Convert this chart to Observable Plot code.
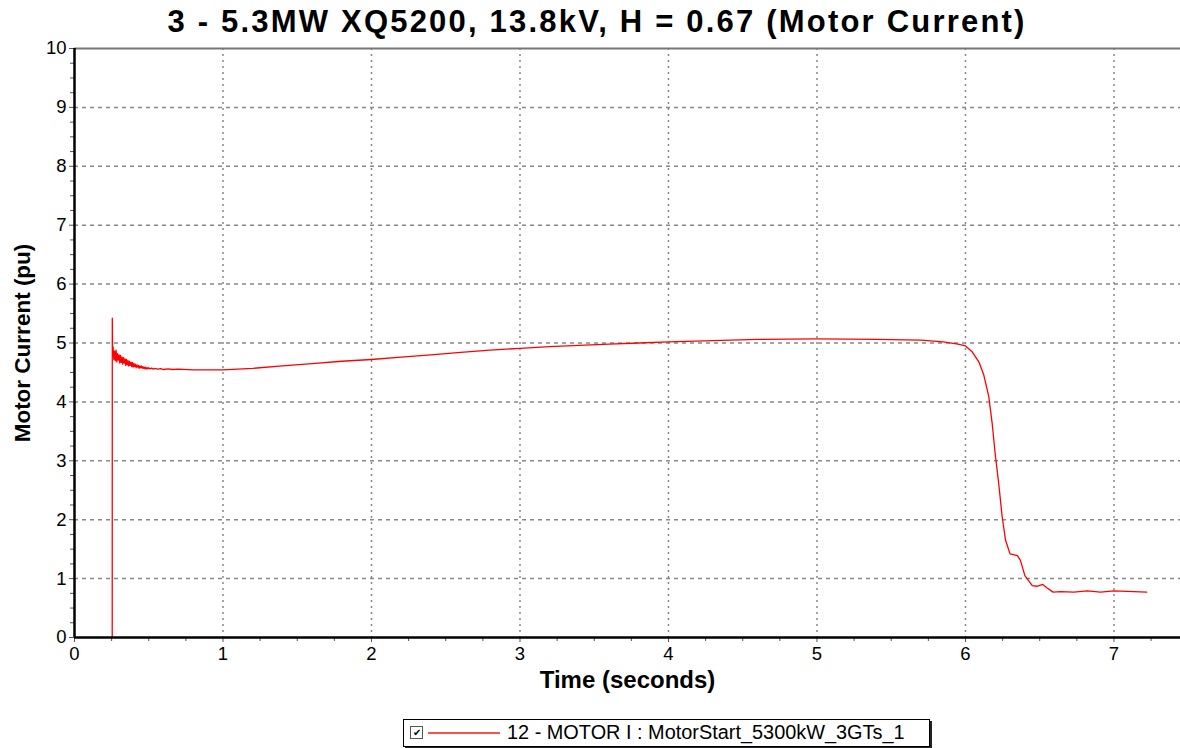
<!DOCTYPE html>
<html>
<head>
<meta charset="utf-8">
<script src="https://cdn.jsdelivr.net/npm/d3@7"></script>
<script src="https://cdn.jsdelivr.net/npm/@observablehq/plot@0.6"></script>
<style>
  html, body { margin: 0; padding: 0; background: #fff; width: 1180px; height: 748px; overflow: hidden; position: relative; }
  body { font-family: "Liberation Sans", Arial, sans-serif; }
  #title { height: 34px; line-height: 44px; text-align: center; font-size: 31px; letter-spacing: 2.2px; font-weight: bold; color: #000; padding-left: 14px; box-sizing: border-box; white-space: nowrap; }
  #legend { position: absolute; left: 403px; top: 719px; width: 525px; height: 26px; border: 1px solid #000; box-shadow: 2px 2px 0 #222; background: #fff; font-size: 19.9px; color: #000; }
  #legend .cb { position: absolute; left: 6px; top: 6px; width: 11px; height: 11px; border: 1px solid #555; font-size: 10px; line-height: 11px; text-align: center; }
  #legend .ln { position: absolute; left: 24px; top: 12px; width: 72px; height: 2px; background: #ff5050; }
  #legend .tx { position: absolute; left: 103px; top: 1px; white-space: nowrap; }
</style>
</head>
<body>
<div id="title">3 - 5.3MW XQ5200, 13.8kV, H = 0.67 (Motor Current)</div>
<div id="chart"></div>
<div id="legend"><div class="cb">&#10004;</div><div class="ln"></div><div class="tx">12 - MOTOR I : MotorStart_5300kW_3GTs_1</div></div>
<script>
// Time (seconds)
const time = [
  0.254, 0.2545, 0.257,
  0.260, 0.265, 0.270, 0.275, 0.280, 0.285, 0.290, 0.295, 0.300, 0.305,
  0.310, 0.315, 0.320, 0.325, 0.330, 0.335, 0.340, 0.345, 0.350, 0.355,
  0.360, 0.365, 0.370, 0.375, 0.380, 0.385, 0.390, 0.395, 0.400, 0.405,
  0.410, 0.415, 0.420, 0.425, 0.430, 0.435, 0.440, 0.445, 0.450, 0.455,
  0.460, 0.465, 0.470, 0.475, 0.480, 0.485, 0.490, 0.495, 0.500,
  0.51, 0.52, 0.53, 0.54, 0.56, 0.58, 0.60, 0.63, 0.66, 0.70, 0.80, 0.90, 1.00,
  1.2, 1.4, 1.6, 1.8, 2.0, 2.2, 2.4, 2.6, 2.8, 3.0,
  3.2, 3.4, 3.6, 3.8, 4.0, 4.3, 4.6, 5.0, 5.4, 5.7,
  5.85, 5.95, 6.0, 6.045, 6.09, 6.123, 6.157, 6.18, 6.20, 6.224,
  6.247, 6.27, 6.30, 6.35, 6.37, 6.40, 6.45, 6.48, 6.52, 6.55,
  6.59, 6.64, 6.73, 6.82, 6.91, 7.0, 7.22
];
// Motor current (pu)
const current = [
  0, 5.42, 4.80,
  4.93, 4.72, 4.86, 4.70, 4.88, 4.68, 4.82, 4.71, 4.80, 4.66,
  4.79, 4.67, 4.76, 4.64, 4.75, 4.66, 4.73, 4.62, 4.72, 4.63,
  4.70, 4.61, 4.69, 4.62, 4.67, 4.60, 4.67, 4.59, 4.65, 4.60,
  4.64, 4.58, 4.63, 4.59, 4.62, 4.57, 4.61, 4.58, 4.61, 4.57,
  4.60, 4.57, 4.59, 4.56, 4.59, 4.56, 4.58, 4.56, 4.58,
  4.56, 4.575, 4.555, 4.57, 4.555, 4.565, 4.55, 4.56, 4.55, 4.555, 4.545, 4.545, 4.545,
  4.57, 4.61, 4.65, 4.69, 4.72, 4.76, 4.80, 4.84, 4.88, 4.91,
  4.94, 4.96, 4.98, 5.00, 5.02, 5.04, 5.06, 5.07, 5.06, 5.05,
  5.02, 4.98, 4.95, 4.85, 4.68, 4.46, 4.09, 3.63, 3.12, 2.61,
  2.05, 1.65, 1.42, 1.39, 1.31, 1.05, 0.88, 0.87, 0.90, 0.84,
  0.77, 0.78, 0.77, 0.79, 0.77, 0.79, 0.77
];
const xTicks = [0, 1, 2, 3, 4, 5, 6, 7];
const yTicks = [0, 1, 2, 3, 4, 5, 6, 7, 8, 9, 10];
const xMinor = [0.25, 0.5, 0.75, 1.25, 1.5, 1.75, 2.25, 2.5, 2.75, 3.25, 3.5, 3.75, 4.25, 4.5, 4.75, 5.25, 5.5, 5.75, 6.25, 6.5, 6.75, 7.25];
const yMinor = [0.25, 0.5, 0.75, 1.25, 1.5, 1.75, 2.25, 2.5, 2.75, 3.25, 3.5, 3.75, 4.25, 4.5, 4.75, 5.25, 5.5, 5.75, 6.25, 6.5, 6.75, 7.25, 7.5, 7.75, 8.25, 8.5, 8.75, 9.25, 9.5, 9.75];

const data = time.map((t, i) => ({t, v: current[i]}));
const xGrid = xTicks.filter(d => d > 0);
const yGrid = yTicks.filter(d => d > 0 && d < 10);

const chart = Plot.plot({
  width: 1180,
  height: 696,
  marginTop: 14,
  marginBottom: 93,
  marginLeft: 74,
  marginRight: 0,
  style: {fontFamily: "'Liberation Sans', Arial, sans-serif", fontSize: "18px", color: "#000", background: "#fff"},
  x: {domain: [0, 7.448], label: null},
  y: {domain: [0, 10], label: null},
  marks: [
    Plot.ruleX(xGrid, {stroke: "#888", strokeWidth: 1.5, strokeDasharray: "2,4"}),
    Plot.ruleY(yGrid, {stroke: "#888", strokeWidth: 1.5, strokeDasharray: "4,4"}),
    Plot.ruleY([10], {stroke: "#777", strokeWidth: 2}),
    Plot.axisX(xMinor, {tickSize: 4, stroke: "#555", text: null}),
    Plot.axisY(yMinor, {tickSize: 4, stroke: "#555", text: null}),
    Plot.axisX(xTicks, {tickSize: 5, tickPadding: 4, fontSize: 18.5, stroke: "#555", label: null, tickFormat: d => String(d)}),
    Plot.axisY(yTicks, {tickSize: 5, tickPadding: 3, fontSize: 18.5, stroke: "#555", label: null, tickFormat: d => String(d)}),
    Plot.line(data, {x: "t", y: "v", stroke: "#ff0000", strokeWidth: 1.3}),
    Plot.ruleX([0], {stroke: "#000", strokeWidth: 2.5}),
    Plot.ruleY([0], {stroke: "#000", strokeWidth: 2.5}),
    Plot.text(["Time (seconds)"], {frameAnchor: "bottom", dy: 50, fontSize: 24, fontWeight: "bold", fill: "#000"}),
    Plot.text(["Motor Current (pu)"], {frameAnchor: "left", dx: -52, rotate: -90, textAnchor: "middle", fontSize: 22.5, fontWeight: "bold", fill: "#000"})
  ]
});
document.getElementById("chart").appendChild(chart);
</script>
</body>
</html>
